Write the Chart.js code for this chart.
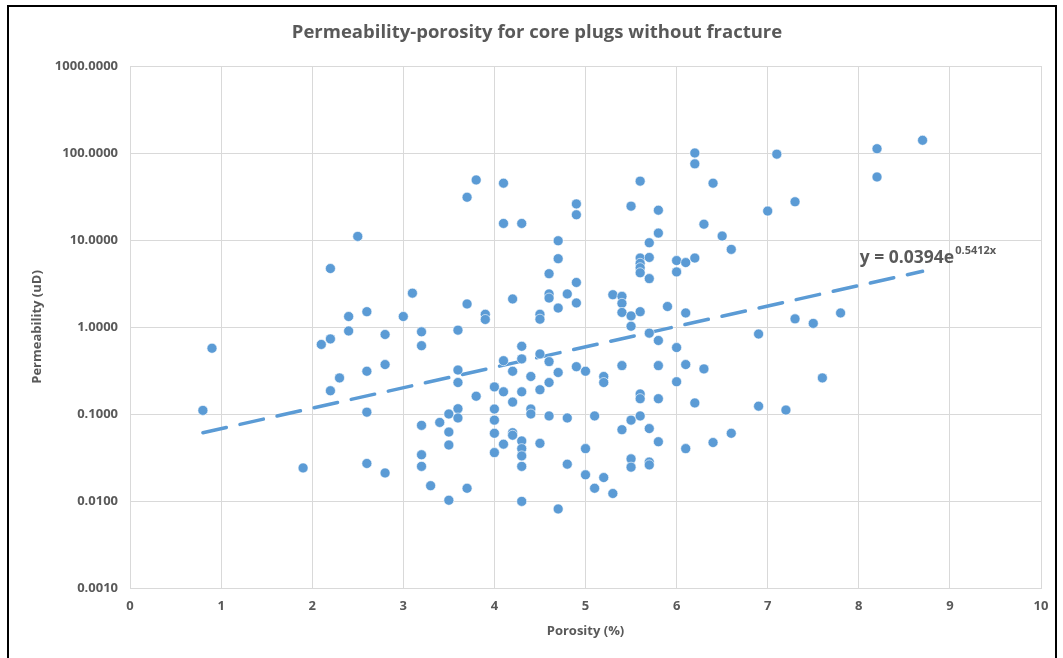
<!DOCTYPE html>
<html>
<head>
<meta charset="utf-8">
<title>Permeability-porosity for core plugs without fracture</title>
<script src="https://cdn.jsdelivr.net/npm/chart.js@4.4.1/dist/chart.umd.min.js"></script>
<style>
  html, body { margin: 0; padding: 0; background: #fff; }
  #wrap { position: relative; width: 1063px; height: 658px; }
</style>
</head>
<body>
<div id="wrap"><canvas id="chart" width="1063" height="658"></canvas></div>
<script>
"use strict";

var chartTitle = "Permeability-porosity for core plugs without fracture";
var xTitle = "Porosity (%)";
var yTitle = "Permeability (uD)";

// porosity (%) and permeability (uD), one pair per plug, grouped by porosity
var porosity = [
  0.8, 0.9, 1.9, 2.1,
  2.2, 2.2, 2.2,
  2.3,
  2.4, 2.4,
  2.5,
  2.6, 2.6, 2.6, 2.6,
  2.8, 2.8, 2.8,
  3.0, 3.1,
  3.2, 3.2, 3.2, 3.2, 3.2,
  3.3, 3.4,
  3.5, 3.5, 3.5, 3.5,
  3.6, 3.6, 3.6, 3.6, 3.6,
  3.7, 3.7, 3.7,
  3.8, 3.8,
  3.9, 3.9,
  4.0, 4.0, 4.0, 4.0, 4.0,
  4.1, 4.1, 4.1, 4.1, 4.1,
  4.2, 4.2, 4.2, 4.2, 4.2,
  4.3, 4.3, 4.3, 4.3, 4.3, 4.3, 4.3, 4.3, 4.3,
  4.4, 4.4, 4.4,
  4.5, 4.5, 4.5, 4.5, 4.5,
  4.6, 4.6, 4.6, 4.6, 4.6, 4.6,
  4.7, 4.7, 4.7, 4.7, 4.7,
  4.8, 4.8, 4.8,
  4.9, 4.9, 4.9, 4.9, 4.9,
  5.0, 5.0, 5.0,
  5.1, 5.1,
  5.2, 5.2, 5.2,
  5.3, 5.3,
  5.4, 5.4, 5.4, 5.4, 5.4,
  5.5, 5.5, 5.5, 5.5, 5.5, 5.5,
  5.6, 5.6, 5.6, 5.6, 5.6, 5.6, 5.6, 5.6, 5.6,
  5.7, 5.7, 5.7, 5.7, 5.7, 5.7, 5.7,
  5.8, 5.8, 5.8, 5.8, 5.8, 5.8,
  5.9,
  6.0, 6.0, 6.0, 6.0,
  6.1, 6.1, 6.1, 6.1,
  6.2, 6.2, 6.2, 6.2,
  6.3, 6.3,
  6.4, 6.4,
  6.5,
  6.6, 6.6,
  6.9, 6.9,
  7.0, 7.1, 7.2,
  7.3, 7.3,
  7.5, 7.6, 7.8,
  8.2, 8.2,
  8.7
];
var permeability = [
  0.11, 0.57, 0.024, 0.63,
  4.7, 0.73, 0.185,
  0.26,
  1.32, 0.9,
  11,
  1.5, 0.31, 0.105, 0.027,
  0.82, 0.37, 0.021,
  1.32, 2.45,
  0.88, 0.61, 0.074, 0.034, 0.025,
  0.015, 0.08,
  0.1, 0.062, 0.044, 0.0102,
  0.92, 0.32, 0.23, 0.115, 0.09,
  31, 1.84, 0.014,
  49, 0.16,
  1.4, 1.22,
  0.205, 0.114, 0.085, 0.06, 0.036,
  45, 15.5, 0.41, 0.18, 0.045,
  2.1, 0.31, 0.137, 0.061, 0.057,
  15.5, 0.6, 0.43, 0.18, 0.049, 0.04, 0.033, 0.025, 0.0099,
  0.27, 0.114, 0.1,
  1.4, 1.23, 0.49, 0.19, 0.046,
  4.1, 2.4, 2.15, 0.4, 0.23, 0.095,
  9.8, 6.1, 1.65, 0.3, 0.0081,
  2.4, 0.09, 0.0265,
  26, 19.5, 3.25, 1.89, 0.35,
  0.31, 0.04, 0.02,
  0.095, 0.014,
  0.27, 0.23, 0.0186,
  2.35, 0.0122,
  2.25, 1.87, 1.47, 0.36, 0.066,
  24.5, 1.34, 1.02, 0.085, 0.0305, 0.0245,
  47.5, 6.2, 5.4, 4.8, 4.2, 1.5, 0.17, 0.15, 0.095,
  9.3, 6.3, 3.6, 0.85, 0.068, 0.028, 0.026,
  22, 12, 0.7, 0.36, 0.15, 0.048,
  1.72,
  5.8, 4.3, 0.58, 0.235,
  5.5, 1.45, 0.37, 0.04,
  100, 75, 6.2, 0.134,
  15.2, 0.33,
  45, 0.047,
  11.1,
  7.8, 0.06,
  0.83, 0.123,
  21.5, 97, 0.111,
  27.5, 1.24,
  1.1, 0.26, 1.45,
  112, 53,
  140
];

// exponential trendline, straight on the log axis: its two end points
var trendX = [0.8, 8.7];
var trendY = [0.061, 4.37];
var trendEq = "y = 0.0394e";
var trendExp = "0.5412x";

var xTicks = [0, 1, 2, 3, 4, 5, 6, 7, 8, 9, 10];
var yTicks = [0.001, 0.01, 0.1, 1, 10, 100, 1000];

var GREY = "#595959";
var BLUE = "#5b9bd5";
var GRID = "#d9d9d9";
var FONT = "'Open Sans', 'Liberation Sans', sans-serif";

function pairs(xs, ys) {
  return xs.map(function(x, i) { return { x: x, y: ys[i] }; });
}

// title, equation label and the black frame round the picture
var decorPlugin = {
  id: "decor",
  afterDraw: function(chart) {
    var ctx = chart.ctx;
    var xs = chart.scales.x, ys = chart.scales.y;
    ctx.save();
    ctx.strokeStyle = "#000";
    ctx.lineWidth = 2;
    ctx.beginPath();
    ctx.moveTo(8, 658);
    ctx.lineTo(8, 6);
    ctx.lineTo(1056, 6);
    ctx.lineTo(1056, 658);
    ctx.stroke();

    ctx.fillStyle = GREY;
    ctx.textAlign = "center";
    ctx.textBaseline = "middle";
    ctx.font = "bold 18.5px " + FONT;
    ctx.fillText(chartTitle, 537, 33);

    // equation label sits just above the end of the trendline
    var ex = xs.getPixelForValue(8.0) + 1;
    var ey = ys.getPixelForValue(trendY[1]) - 13;
    ctx.textAlign = "left";
    ctx.font = "bold 17.5px " + FONT;
    ctx.fillText(trendEq, ex, ey);
    var w = ctx.measureText(trendEq).width;
    ctx.font = "bold 11px " + FONT;
    ctx.fillText(trendExp, ex + w + 1, ey - 7);
    ctx.restore();
  }
};

new Chart(document.getElementById("chart").getContext("2d"), {
  type: "scatter",
  data: {
    datasets: [
      {
        label: "Plugs",
        data: pairs(porosity, permeability),
        backgroundColor: BLUE,
        borderColor: "#ffffff",
        borderWidth: 0.6,
        pointRadius: 5,
        pointHoverRadius: 5,
        order: 1
      },
      {
        label: "Trend",
        type: "line",
        data: pairs(trendX, trendY),
        borderColor: BLUE,
        borderWidth: 3.5,
        borderDash: [24, 14],
        borderCapStyle: "round",
        pointRadius: 0,
        fill: false,
        order: 2
      }
    ]
  },
  options: {
    responsive: false,
    animation: false,
    devicePixelRatio: 1,
    layout: { padding: { left: 0, right: 22, top: 66, bottom: 0 } },
    plugins: {
      legend: { display: false },
      tooltip: { enabled: false },
      title: { display: false }
    },
    scales: {
      x: {
        type: "linear",
        min: 0,
        max: 10,
        afterFit: function(s) { s.height = 70; },
        afterBuildTicks: function(s) { s.ticks = xTicks.map(function(v) { return { value: v }; }); },
        grid: { color: GRID, drawTicks: false, lineWidth: 1 },
        border: { color: GRID },
        ticks: { color: GREY, padding: 10, font: { family: FONT, size: 13, weight: "bold" } },
        title: {
          display: true, text: xTitle, color: GREY,
          font: { family: FONT, size: 13, weight: "bold" },
          padding: { top: 0, bottom: 19 }
        }
      },
      y: {
        type: "logarithmic",
        min: 0.001,
        max: 1000,
        afterFit: function(s) { s.width = 130; },
        afterBuildTicks: function(s) { s.ticks = yTicks.map(function(v) { return { value: v }; }); },
        grid: { color: GRID, drawTicks: false, lineWidth: 1 },
        border: { color: GRID },
        ticks: {
          color: GREY, padding: 12, font: { family: FONT, size: 13, weight: "bold" },
          callback: function(v) { return Number(v).toFixed(4); }
        },
        title: {
          display: true, text: yTitle, color: GREY,
          font: { family: FONT, size: 13, weight: "bold" },
          padding: { top: 29, bottom: 0 }
        }
      }
    }
  },
  plugins: [decorPlugin]
});
</script>
</body>
</html>
